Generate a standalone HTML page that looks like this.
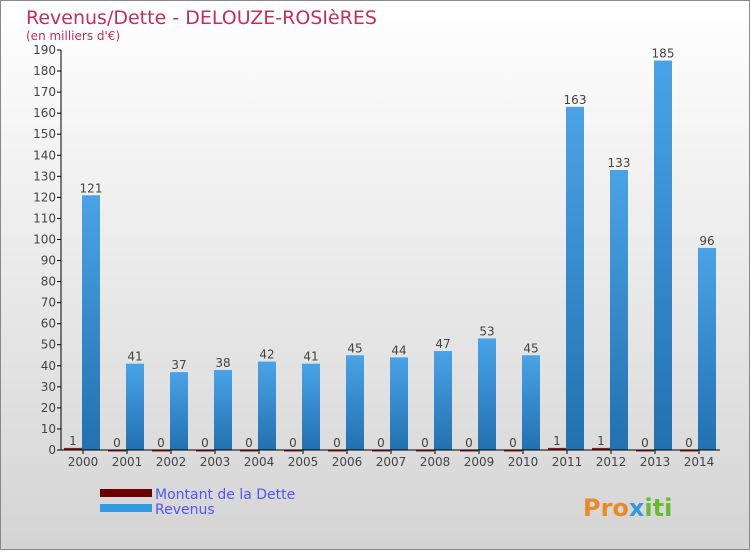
<!DOCTYPE html>
<html><head><meta charset="utf-8"><style>
html,body{margin:0;padding:0}
body{width:750px;height:550px;overflow:hidden;font-family:"DejaVu Sans","Liberation Sans",sans-serif}
</style></head><body>
<svg width="750" height="550" xmlns="http://www.w3.org/2000/svg">
<defs>
<linearGradient id="bg" x1="0" y1="0" x2="0" y2="1"><stop offset="0" stop-color="#ffffff"/><stop offset="1" stop-color="#d4d4d4"/></linearGradient>
<linearGradient id="rev" x1="0" y1="0" x2="0" y2="1"><stop offset="0" stop-color="#4aa3e6"/><stop offset="1" stop-color="#2271b0"/></linearGradient>
</defs>
<rect x="0.5" y="0.5" width="749" height="549" fill="url(#bg)" stroke="#888"/>
<text x="26" y="24" font-size="19" fill="#c0305e">Revenus/Dette - DELOUZE-ROSIèRES</text>
<text x="26" y="40" font-size="12" fill="#c0305e">(en milliers d'€)</text>
<g id="plot"></g>
<g>
<rect x="100" y="489" width="52" height="8" fill="#6b0000"/>
<text x="155" y="499" font-size="14" fill="#5555ee">Montant de la Dette</text>
<rect x="100" y="504" width="52" height="8" fill="#3399e0"/>
<text x="155" y="514" font-size="14" fill="#5555ee">Revenus</text>
</g>
<text x="583" y="516" font-size="24" font-weight="bold" fill="#e88a2a">Pro<tspan fill="#3399dd">x</tspan><tspan fill="#66bb33">iti</tspan></text>
</svg>
<script>
const years=["2000","2001","2002","2003","2004","2005","2006","2007","2008","2009","2010","2011","2012","2013","2014"];
const dette=[1,0,0,0,0,0,0,0,0,0,0,1,1,0,0];
const revenus=[121,41,37,38,42,41,45,44,47,53,45,163,133,185,96];
const yTicks=[0,10,20,30,40,50,60,70,80,90,100,110,120,130,140,150,160,170,180,190];
const NS="http://www.w3.org/2000/svg";
const g=document.getElementById('plot');
const x0=61,y0=450,yTop=50,yMax=190,step=44;
const ys=v=>y0-(v/yMax)*(y0-yTop);
const xc=i=>x0+22+i*step;
function mk(t,a){const e=document.createElementNS(NS,t);for(const k in a)e.setAttribute(k,a[k]);g.appendChild(e);return e;}
yTicks.forEach(v=>{
  const l=mk('line',{x1:x0-4,x2:x0,y1:ys(v),y2:ys(v),stroke:'#000'});
  
  
  const t=mk('text',{x:x0-5,y:ys(v)+4,'font-size':12,fill:'#444','text-anchor':'end'});
  t.textContent=v;
  
  
});
years.forEach((yr,i)=>{
  const c=xc(i);
  const bd=mk('rect',{x:c-19,y:ys(dette[i]),width:18,height:Math.max(1.5,y0-ys(dette[i])),fill:'#8b1a1a'});
  
  
  const br=mk('rect',{x:c-1,y:ys(revenus[i]),width:18,height:y0-ys(revenus[i]),fill:'url(#rev)'});
  
  
  const td=mk('text',{x:c-10,y:ys(dette[i])-3,'font-size':12,fill:'#444','text-anchor':'middle'});
  td.textContent=dette[i];
  
  
  const tr=mk('text',{x:c+8,y:ys(revenus[i])-3,'font-size':12,fill:'#444','text-anchor':'middle'});
  tr.textContent=revenus[i];
  
  
  const tk=mk('line',{x1:c,x2:c,y1:y0,y2:y0+4,stroke:'#000'});
  
  
  const tl=mk('text',{x:c,y:y0+16,'font-size':12,fill:'#444','text-anchor':'middle'});
  tl.textContent=yr;
  
  
});
const ya=mk('line',{x1:x0,x2:x0,y1:yTop,y2:y0,stroke:'#000'});


const xa=mk('line',{x1:x0,x2:720,y1:y0,y2:y0,stroke:'#000'});


</script>
</body></html>
